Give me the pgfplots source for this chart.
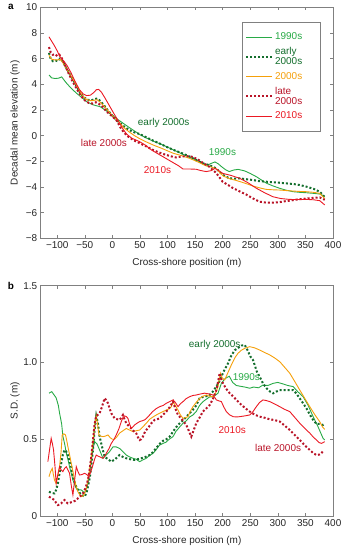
\documentclass[border=0pt]{standalone}
\usepackage{fontspec}
\setmainfont{Liberation Sans}
\usepackage{pgfplots}
\pgfplotsset{compat=1.18}
\definecolor{cA}{RGB}{40,170,70}
\definecolor{cB}{RGB}{20,110,45}
\definecolor{cC}{RGB}{245,160,10}
\definecolor{cD}{RGB}{185,20,40}
\definecolor{cE}{RGB}{235,25,35}
\definecolor{axgray}{RGB}{128,128,128}
\pgfplotsset{
  myax/.style={
    scale only axis, width=292.3bp,
    xmin=-130, xmax=400,
    xtick={-100,-50,...,400},
    xticklabels={−100,−50,0,50,100,150,200,250,300,350,400},
    tick align=inside, xtick pos=both, ytick pos=both,
    major tick length=3bp, minor tick num=0,
    axis line style={axgray, line width=0.6bp},
    every tick/.style={axgray, line width=0.6bp},
    tick label style={font=\fontsize{10}{12}\selectfont, color=black!85},
    label style={font=\fontsize{10}{12}\selectfont, color=black!85},
    xlabel={Cross-shore position (m)},
    clip mode=individual,
  },
  solidA/.style={cA, line width=0.9bp},
  dotB/.style={cB, line width=2bp, dash pattern=on 2bp off 2bp},
  solidC/.style={cC, line width=0.9bp},
  dotD/.style={cD, line width=2bp, dash pattern=on 2bp off 2bp},
  solidE/.style={cE, line width=0.9bp},
}
\begin{document}
\begin{tikzpicture}
\path[use as bounding box] (0,0) rectangle (348bp,550bp);
% ---------------- panel a ----------------
\begin{axis}[myax,
  at={(40.7bp,311.7bp)}, anchor=south west, height=231bp,
  ymin=-8, ymax=10, ytick={-8,-6,...,10},
  yticklabels={−8,−6,−4,−2,0,2,4,6,8,10},
  ylabel={Decadal mean elevation (m)},
  ylabel style={at={(axis description cs:-0.088,0.5)}, anchor=center},
  xlabel style={at={(axis description cs:0.5,-0.1056)}, anchor=center},
  legend cell align=left,
  legend style={at={(0.688,0.938)}, anchor=north west, draw=axgray, line width=0.6bp,
    fill=white, row sep=2.2bp, inner xsep=3bp, inner ysep=9bp,
    cells={align=left, font=\fontsize{10}{10}\selectfont}},
  legend image code/.code={\draw[#1] (0bp,0bp) -- (26bp,0bp);},
]
\addplot[solidA] coordinates {(-115,4.72) (-110,4.5) (-104,4.45) (-97,4.48) (-92,4.58) (-88,4.35) (-83,4.08) (-75,3.7) (-65,3.3) (-55,2.95) (-47,2.66) (-40,2.5) (-35,2.4) (-28,2.32) (-22,2.25) (-15,2.05) (-5,1.75) (5,1.42) (10,1.25) (20,0.95) (30,0.65) (37,0.45) (49,0.1) (60,-0.15) (75,-0.45) (90,-0.7) (110,-1.1) (130,-1.5) (152,-1.9) (165,-2.2) (172,-2.3) (180,-2.15) (186,-2.05) (192,-2.2) (198,-2.42) (205,-2.65) (212,-2.8) (220,-2.68) (228,-2.63) (240,-2.75) (250,-2.95) (261,-3.2) (270,-3.45) (279,-3.7) (290,-3.9) (303,-4.1) (315,-4.25) (328,-4.37) (340,-4.42) (352,-4.45) (365,-4.5) (376,-4.55) (385,-4.72)};
\addlegendentry{\makebox[40bp][l]{\textcolor{cA}{1990s}}}
\addplot[dotB] coordinates {(-115,6.45) (-112,6.0) (-108,5.8) (-103,5.85) (-99,5.8) (-95,6.0) (-91,5.85) (-86,5.45) (-80,5.0) (-73,4.5) (-65,3.85) (-58,3.3) (-52,3.0) (-45,2.8) (-38,2.75) (-32,2.85) (-27,2.9) (-22,2.7) (-15,2.35) (-8,1.95) (0,1.55) (10,1.12) (20,0.75) (30,0.45) (40,0.25) (49.4,0.13) (60,-0.1) (72,-0.35) (85,-0.6) (97,-0.85) (110,-1.1) (125,-1.35) (140,-1.63) (152,-1.9) (164,-2.16) (176,-2.3) (188,-2.55) (195,-2.85) (201,-3.07) (212,-3.33) (222,-3.35) (231,-3.33) (243,-3.4) (255,-3.46) (267,-3.55) (279,-3.59) (291,-3.63) (303,-3.67) (315,-3.72) (328,-3.77) (340,-3.85) (352,-3.98) (365,-4.15) (376,-4.37) (385,-4.8)};
\addlegendentry{{\makebox[40bp][l]{\textcolor{cB}{early}}\\\textcolor{cB}{2000s}}}
\addplot[solidC] coordinates {(-115,6.25) (-110,5.95) (-104,5.9) (-99,5.9) (-95,5.95) (-90,5.7) (-85,5.35) (-78,4.85) (-70,4.3) (-62,3.7) (-55,3.15) (-48,2.85) (-40,2.72) (-33,2.75) (-28,2.8) (-22,2.6) (-15,2.3) (-8,1.95) (0,1.55) (10,1.15) (20,0.65) (30,0.3) (40,0.0) (50,-0.25) (62,-0.5) (75,-0.75) (90,-1.0) (110,-1.37) (125,-1.55) (140,-1.77) (155,-2.05) (170,-2.36) (180,-2.45) (189,-2.6) (195,-2.9) (201,-3.15) (212,-3.35) (225,-3.5) (240,-3.7) (255,-3.93) (267,-4.07) (279,-4.19) (291,-4.22) (303,-4.24) (315,-4.28) (328,-4.32) (340,-4.35) (352,-4.37) (365,-4.42) (376,-4.5) (385,-4.9)};
\addlegendentry{\makebox[40bp][l]{\textcolor{cC}{2000s}}}
\addplot[dotD] coordinates {(-115,6.9) (-112,6.5) (-108,6.3) (-104,6.35) (-100,6.2) (-96,6.3) (-92,6.05) (-87,5.6) (-80,4.9) (-72,4.2) (-64,3.6) (-57,3.1) (-50,2.75) (-43,2.55) (-36,2.5) (-30,2.6) (-25,2.5) (-18,2.25) (-10,1.85) (0,1.5) (8,1.15) (15,0.6) (20,0.3) (28,-0.05) (38,-0.35) (50,-0.6) (62,-0.85) (75,-1.15) (90,-1.4) (105,-1.6) (115,-1.7) (125,-1.63) (135,-1.6) (145,-1.65) (155,-1.85) (165,-2.15) (175,-2.4) (188,-2.9) (195,-3.3) (200,-3.6) (210,-3.85) (219,-4.1) (231,-4.35) (243,-4.6) (255,-4.9) (267,-5.15) (279,-5.22) (291,-5.23) (303,-5.18) (315,-5.1) (321,-5.07) (335,-4.98) (352,-4.9) (365,-4.85) (376,-4.82) (385,-5.0)};
\addlegendentry{{\makebox[40bp][l]{\textcolor{cD}{late}}\\\textcolor{cD}{2000s}}}
\addplot[solidE] coordinates {(-115,7.7) (-110,7.35) (-105,7.0) (-100,6.6) (-95,6.15) (-88,5.8) (-82,5.45) (-75,4.9) (-68,4.25) (-60,3.6) (-53,3.25) (-47,3.12) (-40,3.15) (-34,3.35) (-29,3.58) (-25,3.6) (-20,3.4) (-13,2.9) (-5,2.3) (3,1.7) (10,1.2) (18,0.6) (25,0.15) (35,-0.2) (49,-0.46) (60,-0.75) (72,-1.15) (86,-1.5) (98,-1.8) (110,-2.1) (120,-2.35) (128,-2.6) (140,-2.6) (152,-2.62) (160,-2.72) (170,-2.8) (179,-2.73) (186,-2.55) (192,-2.7) (200,-2.94) (215,-3.1) (231,-3.33) (245,-3.65) (261,-4.1) (276,-4.45) (291,-4.76) (305,-4.9) (321,-4.97) (335,-4.98) (352,-4.97) (365,-5.0) (376,-5.07) (385,-5.4)};
\addlegendentry{\makebox[40bp][l]{\textcolor{cE}{2010s}}}
\node[text=cB, font=\fontsize{10}{12}\selectfont] at (axis cs:93,0.97) {early 2000s};
\node[text=cD, font=\fontsize{10}{12}\selectfont] at (axis cs:-15.4,-0.6) {late 2000s};
\node[text=cA, font=\fontsize{10}{12}\selectfont] at (axis cs:199.5,-1.3) {1990s};
\node[text=cE, font=\fontsize{10}{12}\selectfont] at (axis cs:81.7,-2.7) {2010s};
\node[font=\bfseries\fontsize{10}{12}\selectfont] at (axis description cs:-0.1016,1.0) {a};
\end{axis}
% ---------------- panel b ----------------
\begin{axis}[myax,
  at={(40.7bp,34bp)}, anchor=south west, height=230.3bp,
  ymin=0, ymax=1.5, ytick={0,0.5,1,1.5},
  yticklabels={0,0.5,1.0,1.5},
  ylabel={S.D. (m)},
  ylabel style={at={(axis description cs:-0.088,0.5)}, anchor=center},
  xlabel style={at={(axis description cs:0.5,-0.107)}, anchor=center},
]
\addplot[solidA] coordinates {(-115,0.8) (-110,0.81) (-106,0.79) (-102,0.77) (-98,0.72) (-95.8,0.67) (-92,0.6) (-89.8,0.52) (-86,0.46) (-83.7,0.41) (-80,0.36) (-77.7,0.32) (-74,0.27) (-71.6,0.234) (-65.5,0.18) (-60,0.17) (-56.5,0.17) (-50.4,0.15) (-44.4,0.21) (-41,0.29) (-38.3,0.365) (-35,0.44) (-32.3,0.484) (-28,0.47) (-23.2,0.43) (-17.1,0.376) (-11.1,0.397) (-5,0.42) (1,0.45) (7,0.45) (13,0.44) (19,0.42) (25.2,0.397) (31,0.385) (37.3,0.376) (43,0.37) (49.4,0.354) (55,0.365) (61.5,0.376) (67.5,0.395) (73.6,0.408) (79,0.43) (85,0.46) (91.7,0.473) (97,0.48) (103,0.5) (109.9,0.517) (115,0.55) (122,0.58) (128,0.604) (134,0.62) (140,0.645) (146,0.658) (152,0.68) (158,0.72) (164.3,0.745) (170,0.76) (176,0.775) (182.5,0.777) (188,0.79) (191.5,0.8) (197.6,0.864) (203,0.89) (206.7,0.9) (212,0.91) (218,0.87) (224.8,0.85) (232,0.845) (240,0.84) (249,0.832) (256,0.84) (265,0.835) (273,0.853) (282,0.85) (291.4,0.864) (300,0.87) (309.5,0.86) (318,0.85) (327.7,0.843) (336,0.81) (345.8,0.777) (355,0.72) (364,0.647) (373,0.58) (382,0.506) (385,0.495)};
\addplot[dotB] coordinates {(-115,0.158) (-110,0.15) (-105,0.147) (-102,0.17) (-98.8,0.213) (-95.8,0.28) (-92.8,0.343) (-89.8,0.4) (-86.7,0.43) (-83.7,0.42) (-80.7,0.397) (-77.7,0.36) (-74.6,0.321) (-71.6,0.256) (-68.5,0.22) (-65.5,0.19) (-61,0.16) (-56.5,0.137) (-50.4,0.126) (-47,0.15) (-44.4,0.19) (-41,0.25) (-38.3,0.321) (-35,0.44) (-32.3,0.56) (-29.3,0.652) (-26,0.6) (-23.2,0.517) (-18,0.44) (-14.1,0.386) (-8,0.37) (-2,0.354) (5,0.37) (13,0.397) (19,0.385) (25.2,0.376) (32,0.37) (40.3,0.365) (46,0.37) (52.4,0.376) (60,0.385) (67.5,0.397) (72,0.41) (76.6,0.43) (85.7,0.47) (92,0.49) (97.8,0.5) (103.8,0.517) (110,0.55) (116,0.58) (122,0.604) (130,0.63) (140,0.669) (148,0.7) (152,0.72) (158,0.766) (164,0.775) (170,0.78) (176.4,0.788) (182,0.81) (188.5,0.843) (193,0.87) (197.6,0.908) (203,0.95) (209.7,0.995) (215,1.04) (221.8,1.08) (228,1.095) (234,1.11) (240,1.114) (245,1.08) (250,1.04) (255,1.016) (262,0.94) (268,0.9) (273,0.864) (280,0.83) (286,0.81) (291.4,0.799) (297,0.81) (303,0.82) (309.5,0.82) (315,0.82) (321,0.82) (327.7,0.82) (333,0.8) (339,0.77) (345.8,0.734) (352,0.7) (358,0.66) (364,0.626) (370,0.6) (376,0.6) (382,0.593) (385,0.6)};
\addplot[solidC] coordinates {(-115,0.256) (-112,0.29) (-109,0.31) (-107,0.27) (-105,0.234) (-102,0.213) (-99,0.26) (-95.8,0.321) (-93,0.42) (-91,0.528) (-88,0.535) (-85,0.528) (-82.7,0.49) (-80.7,0.452) (-77.7,0.4) (-74.6,0.343) (-71.6,0.29) (-68.6,0.234) (-65.5,0.19) (-62.5,0.158) (-59.5,0.14) (-56.5,0.126) (-53.5,0.13) (-50.4,0.147) (-47.4,0.18) (-44.4,0.234) (-41.4,0.3) (-38.3,0.386) (-35.3,0.48) (-32.3,0.582) (-29.3,0.652) (-27,0.6) (-24.4,0.528) (-21,0.52) (-17.1,0.517) (-13,0.52) (-8,0.528) (-4,0.51) (0,0.5) (4,0.5) (8,0.515) (13,0.54) (19,0.555) (25.2,0.57) (31,0.56) (37.3,0.55) (43,0.555) (49.4,0.56) (55,0.58) (61.5,0.604) (67.5,0.63) (73.6,0.645) (79.6,0.658) (85.7,0.669) (91.7,0.68) (97.8,0.69) (103.8,0.7) (106.8,0.712) (109.9,0.745) (114,0.72) (118.9,0.69) (123,0.66) (128,0.636) (132,0.64) (137,0.647) (141,0.68) (146,0.712) (152,0.74) (158.3,0.766) (164,0.78) (170.4,0.788) (176,0.78) (182.5,0.777) (187,0.8) (191.5,0.843) (195.8,0.93) (199,0.9) (203.6,0.886) (209,0.93) (215.7,0.984) (222,1.03) (227.8,1.06) (234,1.08) (240,1.092) (249,1.103) (258,1.095) (267,1.081) (276,1.065) (285.3,1.049) (294,1.03) (303.5,1.005) (312,0.97) (321.6,0.93) (330,0.88) (339.8,0.82) (349,0.765) (357.9,0.712) (367,0.66) (376,0.614) (381,0.58) (385,0.564)};
\addplot[dotD] coordinates {(-115,0.126) (-110,0.115) (-105,0.104) (-102,0.085) (-98.8,0.071) (-95.8,0.075) (-92.8,0.082) (-89.8,0.095) (-86.7,0.104) (-83.7,0.09) (-80.7,0.082) (-77.7,0.085) (-74.6,0.09) (-71.6,0.093) (-67,0.1) (-62.5,0.115) (-58,0.13) (-53.5,0.147) (-49,0.18) (-44.4,0.234) (-41.4,0.3) (-38.3,0.386) (-35.3,0.49) (-32.3,0.6) (-29.3,0.652) (-26,0.66) (-23.2,0.669) (-19,0.71) (-14.1,0.767) (-11,0.755) (-8,0.734) (-5,0.7) (-2,0.669) (4,0.636) (9,0.63) (13,0.626) (16,0.64) (19.1,0.658) (22,0.63) (25.2,0.604) (30,0.585) (34.3,0.57) (38,0.555) (43.3,0.538) (46,0.515) (49.4,0.495) (52,0.5) (55.4,0.517) (58,0.54) (61.5,0.56) (66,0.58) (70.6,0.604) (76.6,0.626) (81,0.63) (85.7,0.636) (92,0.66) (97.8,0.68) (104,0.71) (110,0.745) (114,0.7) (119,0.658) (126,0.63) (134,0.593) (138,0.56) (143,0.517) (147,0.555) (152,0.604) (158,0.64) (164,0.68) (170,0.7) (176.4,0.723) (182,0.76) (188.5,0.82) (192,0.88) (194.5,0.93) (197,0.895) (200.6,0.864) (206,0.83) (212.7,0.8) (220,0.775) (230.9,0.734) (240,0.705) (249,0.68) (258,0.66) (267,0.647) (276,0.64) (285.3,0.63) (294,0.625) (303.5,0.615) (312,0.59) (321.6,0.56) (330,0.53) (339.8,0.495) (349,0.46) (357.9,0.43) (364,0.41) (370,0.397) (375,0.4) (379,0.408) (383,0.43)};
\addplot[solidE] coordinates {(-117,0.354) (-114,0.43) (-111,0.506) (-108.7,0.47) (-106.7,0.43) (-104,0.32) (-102,0.213) (-99,0.27) (-95.8,0.321) (-92.8,0.3) (-89.8,0.289) (-86.7,0.31) (-83.7,0.321) (-80.7,0.3) (-77.7,0.278) (-74.6,0.2) (-71.6,0.137) (-68.6,0.23) (-65.5,0.321) (-62.5,0.29) (-59.5,0.267) (-55,0.27) (-50.4,0.278) (-46.5,0.27) (-42.6,0.256) (-39,0.29) (-35.3,0.332) (-32.3,0.37) (-29.3,0.397) (-26,0.39) (-23.2,0.386) (-20,0.38) (-17.1,0.376) (-14,0.39) (-11.1,0.408) (-6,0.44) (-2,0.473) (3,0.5) (7,0.528) (12,0.57) (16.1,0.615) (19,0.64) (22.2,0.652) (25,0.648) (28.2,0.636) (31,0.6) (34.3,0.57) (37,0.58) (40.3,0.593) (45,0.605) (49.4,0.615) (54,0.62) (58.5,0.626) (63,0.64) (67.5,0.658) (73,0.68) (79.7,0.7) (85.7,0.712) (92,0.72) (97.8,0.734) (104,0.745) (110,0.756) (114,0.74) (119,0.712) (123,0.73) (128,0.745) (134,0.765) (140,0.777) (146,0.785) (152,0.788) (160,0.795) (167.3,0.8) (175,0.795) (182.5,0.788) (188.5,0.756) (193,0.75) (197.6,0.745) (202,0.71) (206.6,0.68) (212,0.66) (218.8,0.647) (225,0.645) (230.8,0.647) (240,0.652) (249,0.658) (255,0.68) (261,0.712) (267,0.74) (273,0.756) (279,0.752) (285.3,0.745) (294,0.73) (303.5,0.712) (312,0.695) (321.6,0.68) (330,0.645) (339.8,0.604) (349,0.57) (357.9,0.54) (364,0.515) (370,0.495) (375,0.478) (379,0.473) (382,0.478) (385,0.484)};
\node[text=cB, font=\fontsize{10}{12}\selectfont] at (axis cs:185.5,1.114) {early 2000s};
\node[text=cA, font=\fontsize{10}{12}\selectfont] at (axis cs:243,0.907) {1990s};
\node[text=cE, font=\fontsize{10}{12}\selectfont] at (axis cs:217.3,0.56) {2010s};
\node[text=cD, font=\fontsize{10}{12}\selectfont] at (axis cs:300.4,0.445) {late 2000s};
\node[font=\bfseries\fontsize{10}{12}\selectfont] at (axis description cs:-0.1016,1.0) {b};
\end{axis}
\end{tikzpicture}
\end{document}
